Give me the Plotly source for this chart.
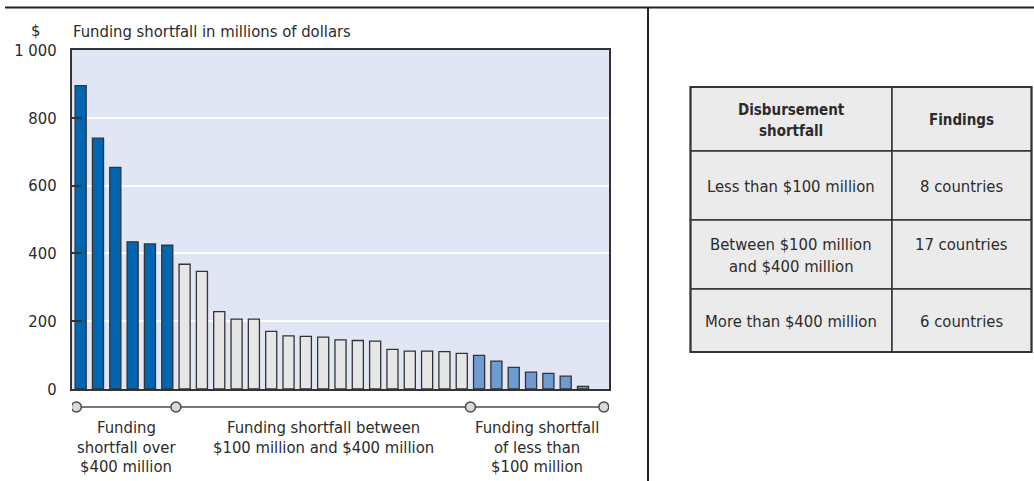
import plotly.graph_objects as go

# Funding shortfall per country, in millions of dollars, sorted from largest to smallest
shortfall = [895, 740, 654, 434, 428, 424,
             368, 347, 228, 206, 206, 170, 157, 155, 153, 145, 143, 141,
             117, 112, 112, 110, 105,
             99, 82, 64, 50, 46, 38, 8, 0]

# Summary table (each cell given as its lines of text)
table_header = [["Disbursement", "shortfall"], ["Findings"]]
table_ranges = [["Less than $100 million"],
                ["Between $100 million", "and $400 million"],
                ["More than $400 million"]]
table_findings = [["8 countries"], ["17 countries"], ["6 countries"]]

group_counts = [6, 17, 8]          # over $400m, $100m-$400m, under $100m
group_colors = ["#0066B2", "#E6E6E6", "#6F9BD3"]
group_labels = [["Funding", "shortfall over", "$400 million"],
                ["Funding shortfall between", "$100 million and $400 million"],
                ["Funding shortfall", "of less than", "$100 million"]]

y_ticks = [0, 200, 400, 600, 800, 1000]
y_ticktext = ["0", "200", "400", "600", "800", "1 000"]

FONT = "DejaVu Sans Condensed, sans-serif"
TXT = "#2b2b2b"

W, H = 1034, 481
PL, PR, PT, PB = 72, 609, 50, 389


def px(x):
    return (x - PL) / (PR - PL)


def py(y):
    return (PB - y) / (PB - PT)


colors = []
for n, c in zip(group_counts, group_colors):
    colors += [c] * n
outline_w = [1.3 if v > 0 else 0 for v in shortfall]

xs = list(range(len(shortfall)))

fig = go.Figure()
fig.add_trace(go.Bar(
    x=xs, y=shortfall,
    marker=dict(color=colors, line=dict(color="#333333", width=outline_w)),
    width=0.64, hoverinfo="skip",
))

shapes = []
annotations = []


def text_lines(lines, x, y_first, step, xref, size, bold=False):
    for k, line in enumerate(lines):
        t = f"<b>{line}</b>" if bold else line
        annotations.append(dict(x=x, y=py(y_first + k * step), xref=xref, yref="paper", text=t,
                                showarrow=False, xanchor="center", yanchor="middle",
                                font=dict(family=FONT, size=size, color=TXT)))


# Group brackets below the axis
bounds = [-0.25]
acc = 0
for n in group_counts[:-1]:
    acc += n
    bounds.append(acc - 0.5)
bounds.append(len(shortfall) - 0.8)
yb = py(407)
shapes.append(dict(type="line", xref="x", yref="paper", x0=bounds[0], x1=bounds[-1],
                   y0=yb, y1=yb, line=dict(color="#4a4a4a", width=1.5), layer="above"))
for b in bounds:
    shapes.append(dict(type="circle", xref="x", yref="paper", xsizemode="pixel", ysizemode="pixel",
                       xanchor=b, yanchor=yb, x0=-5, x1=5, y0=-5, y1=5,
                       fillcolor="#D9D9D9", line=dict(color="#4a4a4a", width=1.5), layer="above"))
for i, lab in enumerate(group_labels):
    cx = (bounds[i] + bounds[i + 1]) / 2
    text_lines(lab, cx, 427, 20, "x", 16.5)

# Titles above the plot
annotations.append(dict(x=px(35), y=py(31), xref="paper", yref="paper", text="$", showarrow=False,
                        xanchor="center", yanchor="middle", font=dict(family=FONT, size=16.5, color=TXT)))
annotations.append(dict(x=px(71), y=py(32), xref="paper", yref="paper",
                        text="Funding shortfall in millions of dollars", showarrow=False,
                        xanchor="left", yanchor="middle", font=dict(family=FONT, size=16.5, color=TXT)))

# Frame lines of the panel
shapes.append(dict(type="line", xref="paper", yref="paper", x0=px(5), x1=px(1034), y0=py(7.5), y1=py(7.5),
                   line=dict(color="#222222", width=2)))
shapes.append(dict(type="line", xref="paper", yref="paper", x0=px(648), x1=px(648), y0=py(8), y1=py(481),
                   line=dict(color="#222222", width=2)))

# Summary table drawn as cells
col_x = [690.5, 892, 1031.5]
row_y = [87, 151, 220, 289, 352]
cells = [table_header] + [[a, b] for a, b in zip(table_ranges, table_findings)]
for r, row in enumerate(cells):
    for c, lines in enumerate(row):
        shapes.append(dict(type="rect", xref="paper", yref="paper",
                           x0=px(col_x[c]), x1=px(col_x[c + 1]),
                           y0=py(row_y[r + 1]), y1=py(row_y[r]),
                           fillcolor="#EBEBEB", line=dict(color="#333333", width=1.5)))
        cx = px((col_x[c] + col_x[c + 1]) / 2)
        mid = (row_y[r] + row_y[r + 1]) / 2
        if r == 0:
            step = 21
            y0 = mid - step * (len(lines) - 1) / 2
            text_lines(lines, cx, y0 + 1, step, "paper", 15, bold=True)
        else:
            step = 22
            # single-line cells beside a two-line cell align with its first line
            n_lines = max(len(x) for x in row)
            y0 = mid - step * (n_lines - 1) / 2
            text_lines(lines, cx, y0 + 1, step, "paper", 16.5)
shapes.append(dict(type="rect", xref="paper", yref="paper", x0=px(col_x[0]), x1=px(col_x[-1]),
                   y0=py(row_y[-1]), y1=py(row_y[0]), line=dict(color="#333333", width=2)))

fig.update_layout(
    width=W, height=H,
    margin=dict(l=PL, r=W - PR, t=PT, b=H - PB, pad=0),
    paper_bgcolor="white", plot_bgcolor="#E0E6F4",
    showlegend=False, bargap=0.36,
    font=dict(family=FONT, color=TXT),
    shapes=shapes, annotations=annotations,
    xaxis=dict(range=[-0.5, len(shortfall) - 0.5], showticklabels=False, ticks="",
               showgrid=False, zeroline=False, showline=True, mirror=True,
               linecolor="#333333", linewidth=2),
    yaxis=dict(range=[0, 1000], tickvals=y_ticks, ticktext=y_ticktext,
               ticks="inside", ticklen=10, tickwidth=1.5, tickcolor="#333333",
               ticklabelstandoff=10,
               showgrid=True, gridcolor="white", gridwidth=1.5, zeroline=False,
               showline=True, mirror=True, linecolor="#333333", linewidth=2,
               tickfont=dict(family=FONT, size=16.5, color=TXT)),
)

fig.write_html("out.html")
